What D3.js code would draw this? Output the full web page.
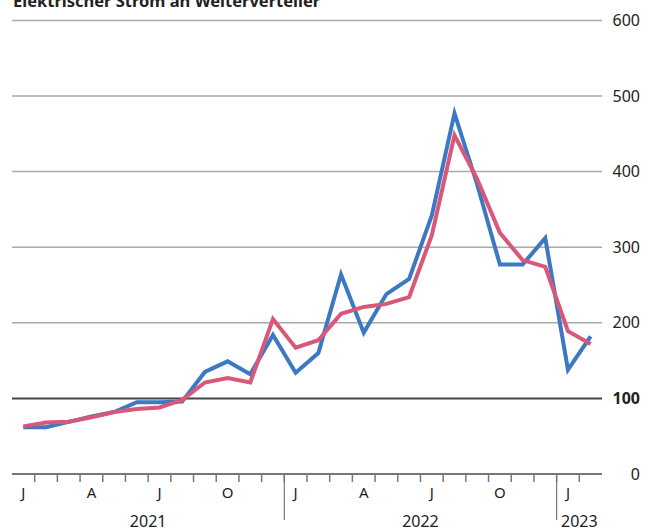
<!DOCTYPE html>
<html>
<head>
<meta charset="utf-8">
<script src="https://cdn.jsdelivr.net/npm/d3@7"></script>
<style>
  body { margin: 0; background: #fff; }
  svg text { font-family: "Noto Sans", "Open Sans", sans-serif; fill: #222; }
</style>
</head>
<body>
<svg id="chart" width="651" height="532"></svg>
<script>
// months Jan 2021 - Feb 2023
var months = ["2021-01","2021-02","2021-03","2021-04","2021-05","2021-06","2021-07","2021-08","2021-09","2021-10","2021-11","2021-12",
              "2022-01","2022-02","2022-03","2022-04","2022-05","2022-06","2022-07","2022-08","2022-09","2022-10","2022-11","2022-12",
              "2023-01","2023-02"];
var monthLabels = ["J","","","A","","","J","","","O","","","J","","","A","","","J","","","O","","","J",""];
var blueSeries = [62,62,69,76,82,95,95,96,135,149,132,184,134,160,264,187,238,258,342,477,383,277,277,312,138,182];
var redSeries  = [63,68,69,75,82,86,88,98,121,127,121,205,167,177,212,221,225,234,316,448,390,319,283,274,189,172];
var yTicks = [0,100,200,300,400,500,600];
var years = [{label:"2021", from:0, to:12}, {label:"2022", from:12, to:24}, {label:"2023", from:24, to:26}];
var title = "Elektrischer Strom an Weiterverteiler";

var svg = d3.select("#chart");
var left = 12, right = 602;

var x = d3.scaleBand().domain(months).range([left, right]);
var y = d3.scaleLinear().domain([0, 600]).range([474, 20.4]);

// gridlines
svg.append("g").selectAll("line")
   .data(yTicks.filter(function(d) { return d !== 0 && d !== 100; }))
   .enter().append("line")
   .attr("x1", left).attr("x2", right)
   .attr("y1", function(d) { return y(d); })
   .attr("y2", function(d) { return y(d); })
   .attr("stroke", "#aaaaaa").attr("stroke-width", 1.5);

svg.append("line")
   .attr("x1", left).attr("x2", right)
   .attr("y1", y(100)).attr("y2", y(100))
   .attr("stroke", "#444").attr("stroke-width", 2);

// y labels
svg.append("g").selectAll("text")
   .data(yTicks)
   .enter().append("text")
   .attr("x", 640)
   .attr("y", function(d) { return y(d); })
   .attr("dy", "0.35em")
   .attr("text-anchor", "end")
   .attr("font-size", 16)
   .attr("font-weight", function(d) { return d === 100 ? "bold" : "normal"; })
   .text(function(d) { return d; });

// x axis
var xAxis = d3.axisBottom(x).tickSize(8).tickFormat("");
var gx = svg.append("g").attr("transform", "translate(0," + y(0) + ")").call(xAxis);
gx.select(".domain").remove();
// ticks at month boundaries instead of centres
gx.selectAll(".tick line")
  .attr("transform", "translate(" + (x.bandwidth() / 2) + ",0)")
  .attr("stroke", "#777").attr("stroke-width", 1.5);
gx.selectAll(".tick").filter(function(d, i) { return i === months.length - 1; }).remove();
svg.append("line")
   .attr("x1", left).attr("x2", right)
   .attr("y1", y(0)).attr("y2", y(0))
   .attr("stroke", "#777").attr("stroke-width", 2);

svg.append("g").selectAll("text")
   .data(months)
   .enter().append("text")
   .attr("x", function(d) { return x(d) + x.bandwidth() / 2; })
   .attr("y", 498)
   .attr("text-anchor", "middle")
   .attr("font-size", 15)
   .text(function(d, i) { return monthLabels[i]; });

// year separators and labels
svg.append("g").selectAll("line")
   .data(years.slice(1))
   .enter().append("line")
   .attr("x1", function(d) { return x(months[d.from]); })
   .attr("x2", function(d) { return x(months[d.from]); })
   .attr("y1", y(0)).attr("y2", 520)
   .attr("stroke", "#777").attr("stroke-width", 1.2);

svg.append("g").selectAll("text")
   .data(years)
   .enter().append("text")
   .attr("x", function(d) {
       var a = x(months[d.from]);
       var b = d.to < months.length ? x(months[d.to]) : right;
       return (a + b) / 2;
   })
   .attr("y", 527)
   .attr("text-anchor", "middle")
   .attr("font-size", 16)
   .text(function(d) { return d.label; });

// lines
var line = d3.line()
    .x(function(d, i) { return x(months[i]) + x.bandwidth() / 2; })
    .y(function(d) { return y(d); });

svg.append("path").datum(blueSeries)
   .attr("d", line).attr("fill", "none")
   .attr("stroke", "#3d78c2").attr("stroke-width", 4)
   .attr("stroke-linejoin", "miter");

svg.append("path").datum(redSeries)
   .attr("d", line).attr("fill", "none")
   .attr("stroke", "#d95779").attr("stroke-width", 4)
   .attr("stroke-linejoin", "miter");

// title, partly above the top edge as in the original crop
svg.append("text")
   .attr("x", 13).attr("y", 7)
   .attr("font-size", 16.5)
   .attr("font-weight", "bold")
   .text(title);
</script>
</body>
</html>
